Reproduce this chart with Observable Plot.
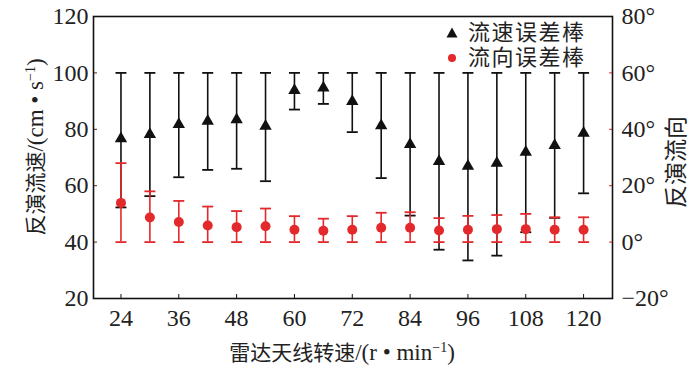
<!DOCTYPE html>
<html><head><meta charset="utf-8">
<script src="https://cdn.jsdelivr.net/npm/d3@7"></script>
<script src="https://cdn.jsdelivr.net/npm/@observablehq/plot@0.6"></script>
<style>
body{margin:0;background:#fff;}
#wrap{position:relative;width:700px;height:368px;}
#legend{position:absolute;left:444px;top:20px;font-family:"Liberation Serif","Noto Sans CJK SC",sans-serif;font-size:22px;letter-spacing:1.5px;color:#222;}
#legend div{display:flex;align-items:center;height:25px;}
#legend span{display:inline-block;height:23px;line-height:23px;overflow:visible;}
#legend svg{margin-right:8px;}
.ttl{position:absolute;white-space:nowrap;color:#222;line-height:1;transform:translate(-50%,-50%);}
.ttl .c{font-family:"Liberation Serif","Noto Sans CJK SC",sans-serif;font-size:21px;}
.ttl .l{font-family:"Liberation Serif",serif;font-size:23px;}
.rot{transform:translate(-50%,-50%) rotate(-90deg);}
</style></head>
<body><div id="wrap"><div id="legend"></div></div>
<script>
const rpm = [24,30,36,42,48,54,60,66,72,78,84,90,96,102,108,114,120];
const speed = [76.7,78.2,81.7,82.9,83.4,81.1,93.8,94.7,89.9,81.3,74.6,68.6,66.9,68,71.9,74.3,78.6];
const speedLow = [52.3,56.3,63,65.6,66,61.6,87,89,79,62.7,49.4,37.3,33.5,35.2,43.5,48.6,57.3];
const speedHigh = [100,100,100,100,100,100,100,100,100,100,100,100,100,100,100,100,100];
const dir = [13.9,8.7,7.1,5.9,5.3,5.6,4.4,4,4.4,5.1,5.1,4.1,4.4,4.6,4.6,4.4,4.4];
const dirLow = [0,0,0,0,0,0,0,0,0,0,0,0,0,0,0,0,0];
const dirHigh = [28,18,14.6,12.6,11,11.9,9.2,8.3,9.2,10.4,10.6,8.5,9.3,9.6,10,8.8,8.8];
const xTicks = [24,36,48,60,72,84,96,108,120];
const leftTicks = [20,40,60,80,100,120];
const rightTicks = [-20,0,20,40,60,80];
const offset = 40; // right axis (deg) = left axis value - 40

const black = "#111", red = "#e3292b";
const rows = rpm.map((x,i)=>({x, v:speed[i], lo:speedLow[i], hi:speedHigh[i], d:dir[i]+offset, dlo:dirLow[i]+offset, dhi:dirHigh[i]+offset}));
const cap = {draw(ctx, size){const w=Math.sqrt(size/Math.PI); ctx.moveTo(-w,0); ctx.lineTo(w,0);}};
const serif = "Liberation Serif, Noto Sans CJK SC, serif";
const none = () => "";

const chart = Plot.plot({
  width:700, height:368,
  marginLeft:93, marginRight:88, marginTop:16, marginBottom:70,
  style:{fontFamily:serif, fontSize:"24px", color:"#222", background:"transparent"},
  x:{domain:[18.3,126]},
  y:{domain:[20,120]},
  marks:[
    Plot.axisX({ticks:xTicks, tickSize:0, tickPadding:10, label:null, fontSize:24, fontFamily:serif}),
    Plot.axisX({ticks:xTicks, tickSize:-4, tickFormat:none, label:null, stroke:black}),
    Plot.axisY({ticks:leftTicks, tickSize:0, tickPadding:5, label:null, fontSize:24, fontFamily:serif}),
    Plot.axisY({ticks:leftTicks, tickSize:-4, tickFormat:none, label:null, stroke:"#5a2020"}),
    Plot.axisY({anchor:"right", ticks:rightTicks.map(t=>t+offset), tickFormat:t=>((t-offset)<0?"−":"")+Math.abs(t-offset)+"°", tickSize:0, tickPadding:9, label:null, fontSize:24, fontFamily:serif}),
    Plot.axisY({anchor:"right", ticks:rightTicks.map(t=>t+offset), tickSize:-4, tickFormat:none, label:null, stroke:red}),
    Plot.frame({stroke:black, strokeWidth:1.6}),
    Plot.ruleX(rows,{x:"x", y1:"lo", y2:"hi", stroke:black, strokeWidth:1.6}),
    Plot.dot(rows,{x:"x", y:"lo", symbol:cap, r:5.5, fill:"none", stroke:black, strokeWidth:1.8}),
    Plot.dot(rows,{x:"x", y:"hi", symbol:cap, r:5.5, fill:"none", stroke:black, strokeWidth:1.8}),
    Plot.dot(rows,{x:"x", y:"v", symbol:"triangle", r:4.6, fill:black, stroke:"none"}),
    Plot.ruleX(rows,{x:"x", y1:"dlo", y2:"dhi", stroke:red, strokeWidth:1.6}),
    Plot.dot(rows,{x:"x", y:"dlo", symbol:cap, r:5.5, fill:"none", stroke:red, strokeWidth:1.8}),
    Plot.dot(rows,{x:"x", y:"dhi", symbol:cap, r:5.5, fill:"none", stroke:red, strokeWidth:1.8}),
    Plot.dot(rows,{x:"x", y:"d", r:5, fill:red, stroke:"none"})
  ]
});
const wrap = document.getElementById("wrap");
wrap.prepend(chart);

const titles = [
  {cjk:"雷达天线转速", lat:"/(r • min<sup style='font-size:14px'>−1</sup>)", x:342, y:352, rot:false},
  {cjk:"反演流速", lat:"/(cm • s<sup style='font-size:14px'>−1</sup>)", x:35, y:147, rot:true},
  {cjk:"反演流向", lat:"", x:676, y:162, rot:true, big:true}
];
titles.forEach(t=>{
  const d = document.createElement("div");
  d.className = "ttl" + (t.rot ? " rot" : "");
  d.style.left = t.x + "px"; d.style.top = t.y + "px";
  d.innerHTML = `<span class="c"${t.big?" style='font-size:23px'":""}>${t.cjk}</span><span class="l">${t.lat}</span>`;
  wrap.appendChild(d);
});

const legendItems = [
  {label:"流速误差棒", sym:'<path d="M0,-5.5L5.5,4.5L-5.5,4.5Z" fill="'+black+'"/>'},
  {label:"流向误差棒", sym:'<circle r="4" fill="'+red+'"/>'}
];
document.getElementById("legend").innerHTML = legendItems.map(it=>
  `<div><svg width="16" height="16" viewBox="-8 -8 16 16">${it.sym}</svg><span>${it.label}</span></div>`).join("");
</script></body></html>
